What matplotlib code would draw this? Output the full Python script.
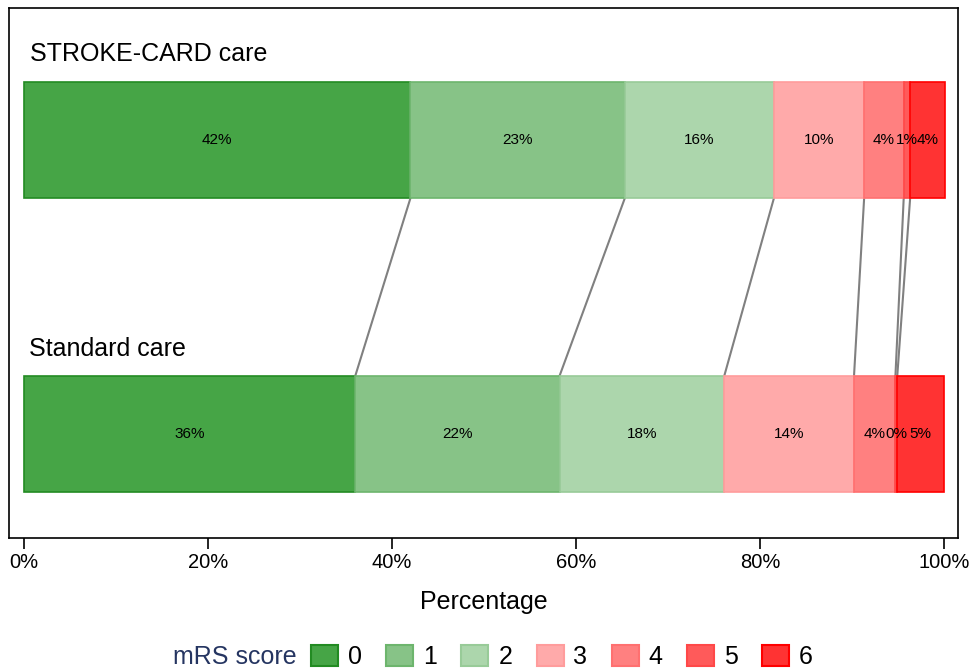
import matplotlib
matplotlib.use("Agg")
import matplotlib.pyplot as plt
from matplotlib.patches import Patch

plt.rcParams['font.family'] = ['Liberation Sans', 'DejaVu Sans']

groups = ['Standard care', 'STROKE-CARD care']
scores = ['0', '1', '2', '3', '4', '5', '6']
standard = [36.0, 22.2, 17.9, 14.1, 4.5, 0.2, 5.1]
strokecard = [42.0, 23.3, 16.2, 9.8, 4.3, 0.7, 3.8]
standard_labels = ['36%', '22%', '18%', '14%', '4%', '0%', '5%']
strokecard_labels = ['42%', '23%', '16%', '10%', '4%', '1%', '4%']

fills = ['#46a546', '#87c387', '#acd6ac', '#ffaaaa', '#ff8080', '#ff5a5a', '#ff3333']
edges = ['#228b22', '#6db56d', '#98cb98', '#ff9c9c', '#ff7070', '#ff4848', '#ff0000']

fig = plt.figure(figsize=(9.73, 6.72), dpi=100)
ax = fig.add_axes([9 / 973, 1 - 538 / 672, 949 / 973, 530 / 672])

bar_h = 0.395
rows = [(0, standard, standard_labels), (1, strokecard, strokecard_labels)]
cum = {}
for y, vals, labs in rows:
    left = 0
    bounds = []
    for i, v in enumerate(vals):
        ax.barh(y, v, left=left, height=bar_h, color=fills[i], edgecolor=edges[i], linewidth=1.2)
        ax.text(left + v / 2, y, labs[i], ha='center', va='center', fontsize=11)
        left += v
        bounds.append(left)
    cum[y] = bounds

# grey lines joining the category boundaries of both bars
for b0, b1 in zip(cum[0][:-1], cum[1][:-1]):
    ax.plot([b1, b0], [1 - bar_h / 2, bar_h / 2], color='#808080', lw=1.5, zorder=0)

ax.text(0.7, 1.293, groups[1], fontsize=18, va='center', ha='left')
ax.text(0.5, 0.289, groups[0], fontsize=18, va='center', ha='left')

ax.set_xlim(-1.63, 101.5)
ax.set_ylim(-0.354, 1.449)
ax.set_yticks([])
ax.set_xticks([0, 20, 40, 60, 80, 100])
ax.set_xticklabels(['0%', '20%', '40%', '60%', '80%', '100%'])
ax.tick_params(axis='x', length=8, width=1.2, pad=3, labelsize=14.5)
for s in ax.spines.values():
    s.set_linewidth(1.2)
ax.set_xlabel('Percentage', fontsize=18, labelpad=13)

# legend: title on the left, entries in a row
fig.text(173 / 973, 1 - 657 / 672, 'mRS score', fontsize=18, color='#253561',
         ha='left', va='center')
handles = [Patch(facecolor=fills[i], edgecolor=edges[i], linewidth=1.5) for i in range(7)]
fig.legend(handles, scores, loc='center left', bbox_to_anchor=(311 / 973, 1 - 657 / 672),
           ncol=7, frameon=False, fontsize=18, handlelength=1.08, handleheight=0.88,
           columnspacing=0.97, handletextpad=0.4, borderpad=0, borderaxespad=0)

fig.savefig('out.png', dpi=100)
